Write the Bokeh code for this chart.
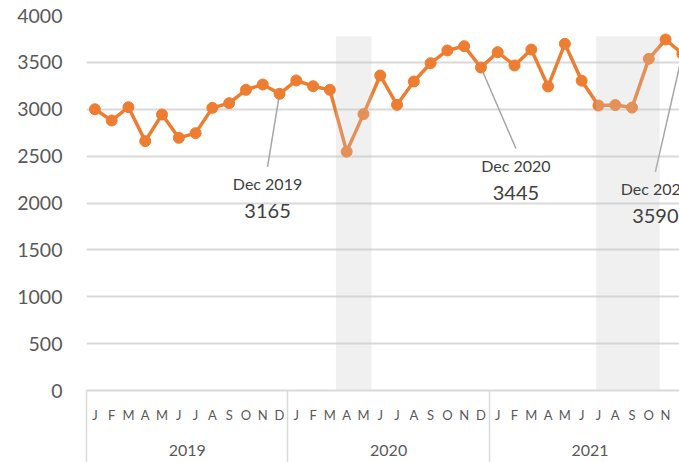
from bokeh.plotting import figure
from bokeh.models import Range1d, FixedTicker, LinearAxis, Label, ColumnDataSource
from bokeh.embed import file_html
from bokeh.resources import INLINE

# ---------------- data ----------------
month_letters = ["J", "F", "M", "A", "M", "J", "J", "A", "S", "O", "N", "D"]
month_names = ["Jan", "Feb", "Mar", "Apr", "May", "Jun",
               "Jul", "Aug", "Sep", "Oct", "Nov", "Dec"]
years = ["2019", "2020", "2021"]

values_2019 = [3000, 2880, 3022, 2660, 2944, 2695, 2745, 3015, 3065, 3207, 3264, 3165]
values_2020 = [3307, 3246, 3207, 2548, 2948, 3360, 3047, 3296, 3491, 3627, 3673, 3445]
values_2021 = [3609, 3467, 3637, 3243, 3698, 3305, 3040, 3045, 3018, 3538, 3744, 3590]

y_ticks = [0, 500, 1000, 1500, 2000, 2500, 3000, 3500, 4000]

# shaded periods (month index, Jan 2019 = 0) and their height
shade_start = [14.36, 29.86]
shade_end = [16.48, 33.65]
shade_top = [3780, 3780]

# callouts: month indices of the annotated points
callout_idx = [11, 23, 35]

# ---------------- layout / style ----------------
W, H = 679, 462
B_LEFT, B_TOP, B_BOTTOM = 86, 15, 72
MONTH_PX = 16.785
FONT = "Lato"
ORANGE = "#ED7D31"
GRID = "#d9d9d9"
AXIS_TXT = "#595959"
ANN_TXT = "#404040"

# callout geometry in pixels: (dx, dy down) of leader end from the point
callout_off = [(-12, 73), (35, 81), (-27, 118)]
TXT_GAP, VAL_GAP = 17, 44

values = values_2019 + values_2020 + values_2021
xs = list(range(len(values)))

frame_w = W - B_LEFT
frame_h = H - B_TOP - B_BOTTOM
x_start = -0.5
x_end = x_start + frame_w / MONTH_PX
y_start, y_end = 0, 4000
ppu = frame_h / (y_end - y_start)

p = figure(width=W, height=H, output_backend="svg", toolbar_location=None,
           x_range=Range1d(x_start, x_end), y_range=Range1d(y_start, y_end),
           min_border_left=B_LEFT, min_border_top=B_TOP,
           min_border_bottom=B_BOTTOM, min_border_right=0)
p.outline_line_color = None
p.background_fill_color = "white"
p.border_fill_color = "white"

# grid
p.xgrid.grid_line_color = None
p.ygrid.grid_line_color = GRID
p.ygrid.grid_line_width = 2
p.ygrid.ticker = FixedTicker(ticks=y_ticks)

# y axis
ya = p.yaxis[0]
ya.ticker = FixedTicker(ticks=y_ticks)
ya.axis_line_color = None
ya.major_tick_line_color = None
ya.major_tick_out = 0
ya.minor_tick_line_color = None
ya.major_label_standoff = 24
ya.major_label_text_font = FONT
ya.major_label_text_font_size = "19.5px"
ya.major_label_text_color = AXIS_TXT

# month axis (its long minor ticks are the year separators)
SEP_LEN = B_BOTTOM
n_years = len(years)
month_ticks = list(range(12 * n_years))
year_bounds = [12 * i - 0.5 for i in range(n_years + 1)]
xa = p.xaxis[0]
xa.ticker = FixedTicker(ticks=month_ticks, minor_ticks=year_bounds)
xa.major_label_overrides = {t: month_letters[t % 12] for t in month_ticks}
xa.axis_line_color = GRID
xa.axis_line_width = 2
xa.major_tick_line_color = None
xa.major_tick_out = 0
xa.major_tick_in = 0
xa.minor_tick_line_color = GRID
xa.minor_tick_line_width = 1.5
xa.minor_tick_in = 0
xa.minor_tick_out = SEP_LEN
xa.major_label_standoff = 16 - SEP_LEN
xa.major_label_text_font = FONT
xa.major_label_text_font_size = "13px"
xa.major_label_text_color = AXIS_TXT

# year axis
year_ticks = [12 * i + 5.5 for i in range(n_years)]
yax = LinearAxis(ticker=FixedTicker(ticks=year_ticks))
yax.major_label_overrides = {t: years[i] for i, t in enumerate(year_ticks)}
yax.axis_line_color = None
yax.major_tick_line_color = None
yax.major_tick_out = 0
yax.major_tick_in = 0
yax.minor_tick_line_color = None
yax.major_label_standoff = 19
yax.major_label_text_font = FONT
yax.major_label_text_font_size = "16px"
yax.major_label_text_color = AXIS_TXT
p.add_layout(yax, "below")

# leader lines
lx0, ly0, lx1, ly1 = [], [], [], []
for i, (dx, dy) in zip(callout_idx, callout_off):
    lx0.append(i)
    ly0.append(values[i])
    lx1.append(i + dx / MONTH_PX)
    ly1.append(values[i] - dy / ppu)
p.segment(x0=lx0, y0=ly0, x1=lx1, y1=ly1, line_color="#a6a6a6", line_width=1.5)

# series
src = ColumnDataSource(dict(x=xs, y=values))
p.line("x", "y", source=src, line_color=ORANGE, line_width=3.5, line_join="round")
p.scatter("x", "y", source=src, size=11, fill_color=ORANGE, line_color=ORANGE)

# shaded periods (drawn over the series, translucent)
p.quad(left=shade_start, right=shade_end, bottom=[y_start] * len(shade_top), top=shade_top,
       fill_color="#c8c8c8", fill_alpha=0.27, line_color=None)

# callout texts
for i, (dx, dy) in zip(callout_idx, callout_off):
    name = f"{month_names[i % 12]} {years[i // 12]}"
    p.add_layout(Label(x=i, y=values[i], x_offset=dx, y_offset=-(dy + TXT_GAP),
                       text=name, text_align="center", text_baseline="middle",
                       text_font=FONT, text_font_size="16px", text_color=ANN_TXT))
    p.add_layout(Label(x=i, y=values[i], x_offset=dx, y_offset=-(dy + VAL_GAP),
                       text=str(values[i]), text_align="center", text_baseline="middle",
                       text_font=FONT, text_font_size="20px", text_color=ANN_TXT))

open("out.html", "w").write(file_html(p, INLINE))
